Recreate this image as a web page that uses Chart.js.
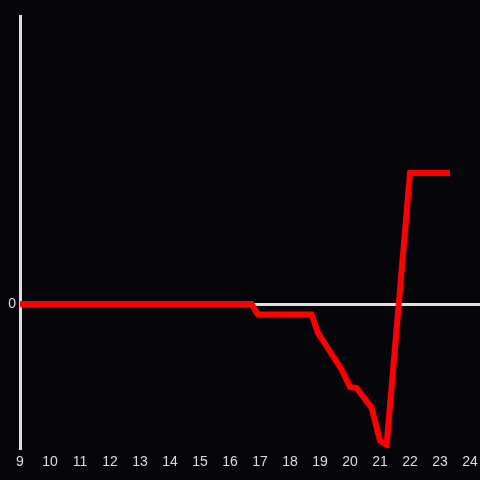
<!DOCTYPE html>
<html lang="en">
<head>
  <meta charset="UTF-8">
  <title>Line</title>
  <script src="https://cdn.jsdelivr.net/npm/chart.js"></script>
  <style>
    html, body { margin: 0; padding: 0; background: #060509; }
    #wrap { width: 480px; height: 480px; }
  </style>
</head>
<body>
<div id="wrap"><canvas id="c" width="480" height="480"></canvas></div>
<script>
const hours  = [9, 16.72, 16.93, 18.72, 18.93, 19.73, 20.0, 20.22, 20.72, 21.0, 21.22, 22.0, 23.33];
const values = [0, 0, -0.73, -0.73, -2.0, -4.58, -5.76, -5.83, -7.2, -9.49, -9.79, 9.1, 9.1];
const yMin = -10, yMax = 20;
const xMin = 9, xMax = 24.333;

const axisColor = '#dedede';
const points = hours.map((h, i) => ({ x: h, y: values[i] }));

new Chart(document.getElementById('c'), {
  type: 'line',
  data: {
    datasets: [{
      data: points,
      borderColor: '#ff0000',
      borderWidth: 6,
      pointRadius: 0,
      tension: 0,
      fill: false
    }]
  },
  options: {
    responsive: false,
    animation: false,
    layout: { padding: { top: 16, right: 0, left: 0, bottom: 0 } },
    plugins: { legend: { display: false }, tooltip: { enabled: false } },
    scales: {
      x: {
        type: 'linear',
        min: xMin, max: xMax,
        grid: { display: false },
        border: { display: false },
        ticks: {
          stepSize: 1, includeBounds: false, padding: -2,
          color: axisColor,
          font: { family: 'Liberation Sans', size: 14 }
        },
        afterFit: s => { s.height = 32; s.paddingLeft = 0; s.paddingRight = 0; }
      },
      y: {
        min: yMin, max: yMax,
        afterBuildTicks: s => { s.ticks = [{ value: 0 }]; },
        grid: { color: axisColor, lineWidth: 3, drawTicks: false },
        border: { display: true, color: axisColor, width: 3 },
        ticks: {
          padding: 4,
          color: axisColor,
          font: { family: 'Liberation Sans', size: 14 }
        },
        afterFit: s => { s.width = 20; }
      }
    }
  }
});
</script>
</body>
</html>
